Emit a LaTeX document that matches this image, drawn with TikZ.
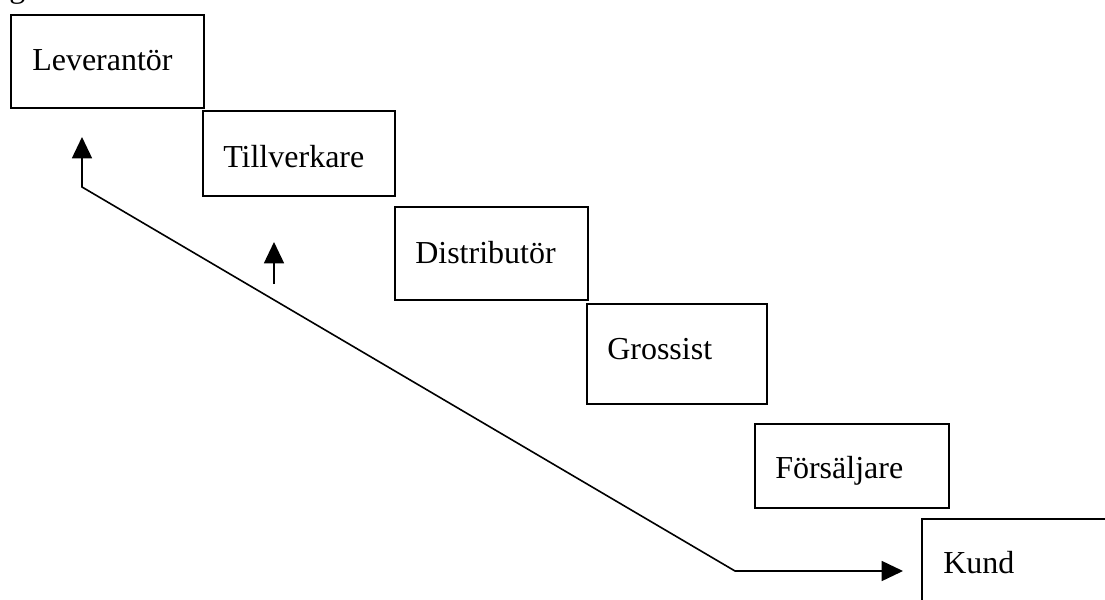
\documentclass[tikz,border=0pt]{standalone}
\usepackage{fontspec}
\setmainfont{Liberation Serif}
\usetikzlibrary{arrows.meta}
\begin{document}
\begin{tikzpicture}[x=0.75pt,y=-0.75pt,
  stagebox/.style={draw,line width=1.35pt,anchor=north west,inner sep=0pt,minimum width=#1},
  lbl/.style={anchor=base west,inner sep=0pt,font=\fontsize{24}{28}\selectfont},
  flow/.style={line width=1.2pt},
  tip/.style={-{Triangle[length=16pt,width=15pt]}}]
\useasboundingbox (0,0) rectangle (1105,599);
% boxes
\node[stagebox=193*0.75pt,minimum height=93*0.75pt] (lev) at (10,14) {};
\node[stagebox=192*0.75pt,minimum height=85*0.75pt] (till) at (202,110) {};
\node[stagebox=193*0.75pt,minimum height=93*0.75pt] (dist) at (394,206) {};
\node[stagebox=180*0.75pt,minimum height=100*0.75pt] (gros) at (586,303) {};
\node[stagebox=194*0.75pt,minimum height=84*0.75pt] (fors) at (754,423) {};
\coordinate (kA) at (1110,519);
\coordinate (kB) at (922,519);
\coordinate (kC) at (922,605);
\draw[line width=1.35pt] (kA) -- (kB) -- (kC);
% labels
\node[lbl] (glyph) at (9,-2) {g};
\node[lbl] (levt) at (32,71) {Leverantör};
\node[lbl] (tillt) at (223,167) {Tillverkare};
\node[lbl] (distt) at (415,263) {Distributör};
\node[lbl] (grost) at (607,359) {Grossist};
\node[lbl] (forst) at (775,478) {Försäljare};
\node[lbl] (kundt) at (943,573) {Kund};
% connector
\coordinate (t1) at (82,137);
\coordinate (c1) at (82,187);
\coordinate (c2) at (735,571);
\coordinate (t2) at (903,571);
\draw[flow,{Triangle[length=16pt,width=15pt]}-{Triangle[length=16pt,width=15pt]}] (t1) -- (c1) -- (c2) -- (t2);
\coordinate (s1) at (274,284);
\coordinate (s2) at (274,242);
\draw[flow,tip] (s1) -- (s2);
\end{tikzpicture}
\end{document}
